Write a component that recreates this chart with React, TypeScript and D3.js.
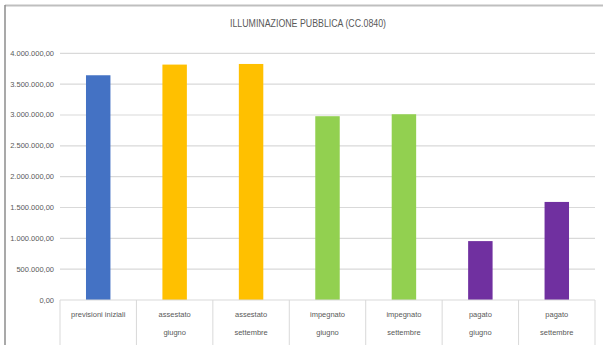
import React from "react";
import * as d3 from "d3";

const categories: string[][] = [
  ["previsioni iniziali"],
  ["assestato", "giugno"],
  ["assestato", "settembre"],
  ["impegnato", "giugno"],
  ["impegnato", "settembre"],
  ["pagato", "giugno"],
  ["pagato", "settembre"],
];
const values: number[] = [3644000, 3817000, 3827000, 2980000, 3012000, 955000, 1590000];
const colors: string[] = ["#4472C4", "#FFC000", "#FFC000", "#92D050", "#92D050", "#7030A0", "#7030A0"];
const yTicks: number[] = [0, 500000, 1000000, 1500000, 2000000, 2500000, 3000000, 3500000, 4000000];
const title = "ILLUMINAZIONE PUBBLICA (CC.0840)";

const fmt = (v: number) => {
  const s = d3.format(",.2f")(v);
  return s.replace(/,/g, "#").replace(/\./g, ",").replace(/#/g, ".");
};

export default function App() {
  const W = 603, H = 345;
  const left = 60, right = 595, top = 53.3, bottom = 300;
  const x = d3.scaleBand<number>().domain(d3.range(categories.length)).range([left, right]).paddingInner(0).paddingOuter(0);
  const y = d3.scaleLinear().domain([0, 4000000]).range([bottom, top]);
  const bw = x.bandwidth() * 0.32;
  const font = "'Liberation Sans Narrow', 'Arial Narrow', 'Liberation Sans', sans-serif";
  return (
    <svg width={W} height={H} style={{ position: "absolute", left: 0, top: 0 }}>
      <rect x={0} y={0} width={W} height={H} fill="#fff" />
      <line x1={5} x2={W} y1={5.5} y2={5.5} stroke="#bfbfbf" strokeWidth={2} />
      <line x1={5} x2={5} y1={5} y2={H} stroke="#8c8c8c" strokeWidth={1.5} />
      <text x={308} y={27} textAnchor="middle" fontFamily={font} fontSize={10.5} fill="#595959" textLength={156} lengthAdjust="spacingAndGlyphs">{title}</text>
      {yTicks.map((t) => (
        <g key={t}>
          {t > 0 && <line x1={left} x2={right} y1={y(t)} y2={y(t)} stroke="#d9d9d9" strokeWidth={1.2} />}
          <text x={54} y={y(t) + 2.5} textAnchor="end" fontFamily={font} fontSize={7.5} fill="#595959">{fmt(t)}</text>
        </g>
      ))}
      {values.map((v, i) => (
        <rect key={i} x={x(i)! + x.bandwidth() / 2 - bw / 2} y={y(v)} width={bw} height={bottom - y(v)} fill={colors[i]} />
      ))}
      <line x1={left} x2={right} y1={bottom} y2={bottom} stroke="#d9d9d9" strokeWidth={1} />
      {d3.range(categories.length + 1).map((i) => {
        const xx = i < categories.length ? x(i)! : right;
        return <line key={i} x1={xx} x2={xx} y1={bottom} y2={H} stroke="#d9d9d9" strokeWidth={1} />;
      })}
      {categories.map((lines, i) => (
        <g key={i}>
          {lines.map((l, j) => (
            <text key={j} x={x(i)! + x.bandwidth() / 2} y={317 + j * 18} textAnchor="middle" fontFamily={font} fontSize={7.5} fill="#595959">{l}</text>
          ))}
        </g>
      ))}
    </svg>
  );
}
